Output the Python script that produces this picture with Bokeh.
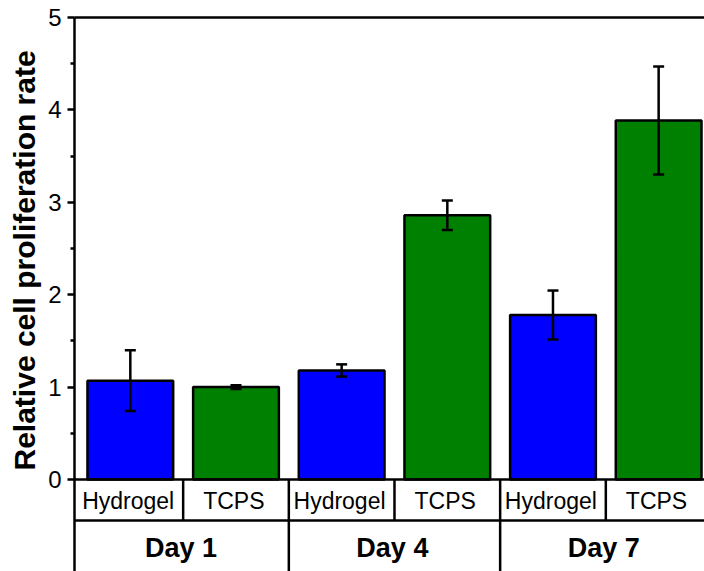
import numpy as np
from bokeh.plotting import figure
from bokeh.models import (ColumnDataSource, Range1d, LinearAxis, FixedTicker,
                          Whisker, TeeHead, Span, Title)
from bokeh.core.properties import value
from bokeh.embed import file_html
from bokeh.resources import INLINE

# ---- data ----
days = ["Day 1", "Day 4", "Day 7"]
materials = ["Hydrogel", "TCPS"]
means = [1.07, 1.00, 1.18, 2.86, 1.78, 3.885]
errors = [0.33, 0.02, 0.066, 0.16, 0.265, 0.585]
y_ticks = [0, 1, 2, 3, 4, 5]
y_minor = [0.5, 1.5, 2.5, 3.5, 4.5]

FONT = "Liberation Sans"
colors = {"Hydrogel": "#0000FF", "TCPS": "#008000"}

n = len(days) * len(materials)
xc = np.arange(n) + 0.5
labels = [m for d in days for m in materials]
src = ColumnDataSource(dict(
    x=xc, top=means,
    upper=[m + e for m, e in zip(means, errors)],
    lower=[m - e for m, e in zip(means, errors)],
    color=[colors[m] for m in labels],
    label=labels,
))

px_per_unit = (479 - 17) / 5.0
ymin = -(571 - 479) / px_per_unit
row_line = -(520 - 479) / px_per_unit
row1_y = -(500 - 479) / px_per_unit
row2_y = -(547 - 479) / px_per_unit

p = figure(width=704, height=571, output_backend="svg", toolbar_location=None,
           x_range=Range1d(-3 / 106, (704 - 75) / 106), y_range=Range1d(ymin, 5),
           x_axis_type=None, min_border_left=72, min_border_right=0,
           min_border_top=17, min_border_bottom=0, background_fill_color="white",
           border_fill_color="white")
p.outline_line_color = None
p.xgrid.visible = False
p.ygrid.visible = False

yax = p.yaxis[0]
yax.ticker = FixedTicker(ticks=y_ticks, minor_ticks=y_minor)
yax.axis_line_width = 2.5
yax.major_tick_line_width = 2.5
yax.minor_tick_line_width = 2.5
yax.major_tick_out = 7
yax.major_tick_in = 0
yax.minor_tick_out = 4
yax.minor_tick_in = 0
yax.major_label_text_font = FONT
yax.major_label_text_font_size = "24px"
yax.major_label_text_color = "black"
yax.major_label_standoff = 6

top_ax = LinearAxis(ticker=FixedTicker(ticks=[]), axis_line_width=2.5,
                    major_tick_line_color=None, minor_tick_line_color=None,
                    major_label_text_font_size="0px")
p.add_layout(top_ax, "above")

p.add_layout(Title(text="Relative cell proliferation rate", align="left",
                   offset=101, text_font=FONT, text_font_size="30px",
                   text_font_style="bold", text_color="black"), "left")

p.vbar(x="x", top="top", width=86 / 106, source=src, fill_color="color",
       line_color="black", line_width=2.5)

p.add_layout(Whisker(source=src, base="x", upper="upper", lower="lower",
                     line_width=2.5, line_color="black", level="overlay",
                     upper_head=TeeHead(size=11, line_width=2.5, line_color="black"),
                     lower_head=TeeHead(size=11, line_width=2.5, line_color="black")))

# category table below the axis
p.add_layout(Span(location=0, dimension="width", line_width=2.5, line_color="black"))
p.add_layout(Span(location=row_line, dimension="width", line_width=2.5, line_color="black"))
b1 = np.arange(1, n)
p.segment(x0=b1, y0=0, x1=b1, y1=row_line, line_width=2.5, line_color="black")
b2 = np.arange(1, len(days)) * len(materials)
p.segment(x0=b2, y0=row_line, x1=b2, y1=ymin, line_width=2.5, line_color="black")

p.text(x=xc - 0.02, y=[row1_y] * n, text=labels, text_font=value(FONT),
       text_font_size="23px", text_align="center", text_baseline="middle",
       text_color="black")
dc = (np.arange(len(days)) + 0.5) * len(materials)
p.text(x=dc - 0.02, y=[row2_y] * len(days), text=days, text_font=value(FONT),
       text_font_size="27px", text_font_style="bold", text_align="center",
       text_baseline="middle", text_color="black")

open("out.html", "w").write(file_html(p, INLINE))
